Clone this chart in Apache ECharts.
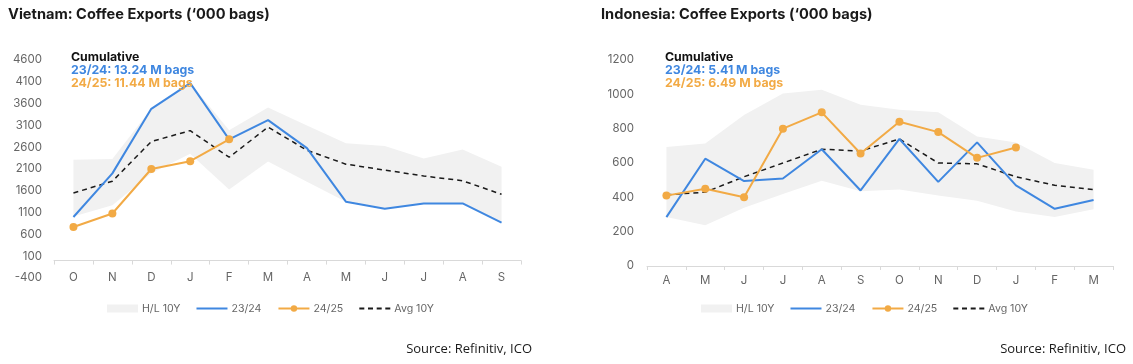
<!DOCTYPE html>
<html>
<head>
<meta charset="utf-8">
<script src="https://cdn.jsdelivr.net/npm/echarts@6/dist/echarts.min.js"></script>
<style>
	html, body { margin: 0; padding: 0; background: #fff; }
	#chart { width: 1133px; height: 364px; }
</style>
</head>
<body>
<div id="chart"></div>
<script>
// Vietnam, crop year Oct-Sep
const vnMonths = ['O', 'N', 'D', 'J', 'F', 'M', 'A', 'M', 'J', 'J', 'A', 'S']
const vnHigh = [2310, 2330, 3480, 4070, 2990, 3510, 3100, 2690, 2630, 2340, 2550, 2150]
const vnLow = [1010, 1270, 2000, 2450, 1630, 2270, 1810, 1350, 1190, 1310, 1310, 870]
const vn2324 = [1000, 2000, 3480, 4070, 2780, 3220, 2580, 1350, 1190, 1310, 1310, 870]
const vn2425 = [770, 1080, 2100, 2280, 2780]
const vnAvg = [1550, 1820, 2730, 2980, 2370, 3060, 2530, 2210, 2075, 1940, 1830, 1520]
const vnTicks = [-400, 4600, 500]

// Indonesia, crop year Apr-Mar
const idMonths = ['A', 'M', 'J', 'J', 'A', 'S', 'O', 'N', 'D', 'J', 'F', 'M']
const idHigh = [693, 714, 880, 1005, 1026, 940, 910, 895, 755, 720, 600, 560]
const idLow = [285, 238, 340, 420, 497, 435, 445, 410, 380, 317, 285, 330]
const id2324 = [285, 625, 495, 510, 680, 440, 740, 490, 720, 470, 333, 385]
const id2425 = [410, 450, 400, 800, 895, 655, 840, 780, 630, 690]
const idAvg = [415, 430, 520, 600, 680, 670, 740, 600, 595, 520, 470, 445]
const idTicks = [0, 1200, 200]

const BLUE = '#3f87e0'
const ORANGE = '#f2aa45'
const BAND = '#f1f1f1'
const FONT = 'Inter'

// legend icons drawn as plain paths (no marker on the line ones)
const ICON_LINE = 'path://M0,0h31v2h-31z'
const ICON_DASH = 'path://M0,0h5v2h-5z M8.7,0h5v2h-5z M17.4,0h5v2h-5z M26,0h5v2h-5z'

const myChart = echarts.init(document.getElementById('chart'))

const xAxisCfg = (idx, data, margin) => ({
	type: 'category',
	gridIndex: idx,
	data: data,
	boundaryGap: true,
	axisLine: { onZero: true, lineStyle: { color: '#d9d9d9' } },
	axisTick: { show: true, length: 4, lineStyle: { color: '#d9d9d9' } },
	axisLabel: { color: '#666', fontSize: 11.5, fontFamily: FONT, margin: margin },
	splitLine: { show: false }
})

const yAxisCfg = (idx, ticks, margin) => ({
	type: 'value',
	gridIndex: idx,
	min: ticks[0],
	max: ticks[1],
	interval: ticks[2],
	axisLine: { show: false },
	axisTick: { show: false },
	splitLine: { show: false },
	axisLabel: {
		color: '#666', fontSize: 11.5, fontFamily: FONT, margin: margin,
		formatter: (v) => String(v)
	}
})

const seriesFor = (idx, low, high, s1, s2, avg) => {
	const stack = 'band' + idx
	return [
		{
			name: 'low', type: 'line', xAxisIndex: idx, yAxisIndex: idx, stack: stack,
			data: low, symbol: 'none', lineStyle: { width: 0, opacity: 0 }, silent: true
		},
		{
			name: 'H/L 10Y', type: 'line', xAxisIndex: idx, yAxisIndex: idx, stack: stack,
			data: high.map((v, i) => v - low[i]), symbol: 'none',
			itemStyle: { color: BAND },
			lineStyle: { width: 0, opacity: 0 },
			areaStyle: { color: BAND, opacity: 1 }
		},
		{
			name: 'Avg 10Y', type: 'line', xAxisIndex: idx, yAxisIndex: idx, data: avg,
			symbol: 'none', itemStyle: { color: '#1a1a1a' },
			lineStyle: { color: '#1a1a1a', width: 1.5, type: [5, 4] }, z: 3
		},
		{
			name: '23/24', type: 'line', xAxisIndex: idx, yAxisIndex: idx, data: s1,
			symbol: 'none', itemStyle: { color: BLUE },
			lineStyle: { color: BLUE, width: 2 }, z: 4
		},
		{
			name: '24/25', type: 'line', xAxisIndex: idx, yAxisIndex: idx, data: s2,
			symbol: 'circle', symbolSize: 8, itemStyle: { color: ORANGE },
			lineStyle: { color: ORANGE, width: 2 }, z: 5
		}
	]
}

const legendCfg = (left) => ({
	left: left,
	top: 303,
	padding: 0,
	itemWidth: 31,
	itemHeight: 8,
	itemGap: 16,
	itemStyle: { borderWidth: 0 },
	textStyle: { color: '#666', fontSize: 10.6, fontFamily: FONT, padding: [0, 0, 0, -1] },
	data: [
		{ name: 'H/L 10Y', icon: 'rect' },
		{ name: '23/24', icon: ICON_LINE },
		'24/25',
		{ name: 'Avg 10Y', icon: ICON_DASH }
	]
})

const noteText = (a, b) => '{k|Cumulative}\n{b|23/24: ' + a + ' M bags}\n{o|24/25: ' + b + ' M bags}'
const noteRich = {
	k: { color: '#111', fontWeight: 'bold', fontSize: 12.3, fontFamily: FONT, lineHeight: 13 },
	b: { color: BLUE, fontWeight: 'bold', fontSize: 12.3, fontFamily: FONT, lineHeight: 13 },
	o: { color: ORANGE, fontWeight: 'bold', fontSize: 12.3, fontFamily: FONT, lineHeight: 13 }
}

const titleStyle = { color: '#1a1a1a', fontSize: 14.6, fontWeight: 'bold', fontFamily: FONT }
const sourceStyle = { color: '#1a1a1a', fontSize: 13, fontWeight: 'normal', fontFamily: 'Open Sans' }

const option = {
	animation: false,
	backgroundColor: '#fff',
	title: [
		{ text: 'Vietnam: Coffee Exports (\u2018000 bags)', left: 8, top: 7, padding: 0, textStyle: titleStyle },
		{ text: 'Indonesia: Coffee Exports (\u2018000 bags)', left: 601, top: 7, padding: 0, textStyle: titleStyle },
		{ text: noteText('13.24', '11.44'), left: 71, top: 51, padding: 0, textStyle: { rich: noteRich } },
		{ text: noteText('5.41', '6.49'), left: 665, top: 51, padding: 0, textStyle: { rich: noteRich } },
		{ text: 'Source: Refinitiv, ICO', right: 601, top: 343, padding: 0, textStyle: sourceStyle },
		{ text: 'Source: Refinitiv, ICO', right: 7, top: 343, padding: 0, textStyle: sourceStyle }
	],
	legend: [legendCfg(107), legendCfg(701)],
	grid: [
		{ left: 54, top: 60, width: 467, height: 218 },
		{ left: 647, top: 60, width: 466, height: 206 }
	],
	xAxis: [xAxisCfg(0, vnMonths, -6), xAxisCfg(1, idMonths, 9)],
	yAxis: [yAxisCfg(0, vnTicks, 12), yAxisCfg(1, idTicks, 13)],
	series: [].concat(
		seriesFor(0, vnLow, vnHigh, vn2324, vn2425, vnAvg),
		seriesFor(1, idLow, idHigh, id2324, id2425, idAvg)
	)
}

myChart.setOption(option)
</script>
</body>
</html>
